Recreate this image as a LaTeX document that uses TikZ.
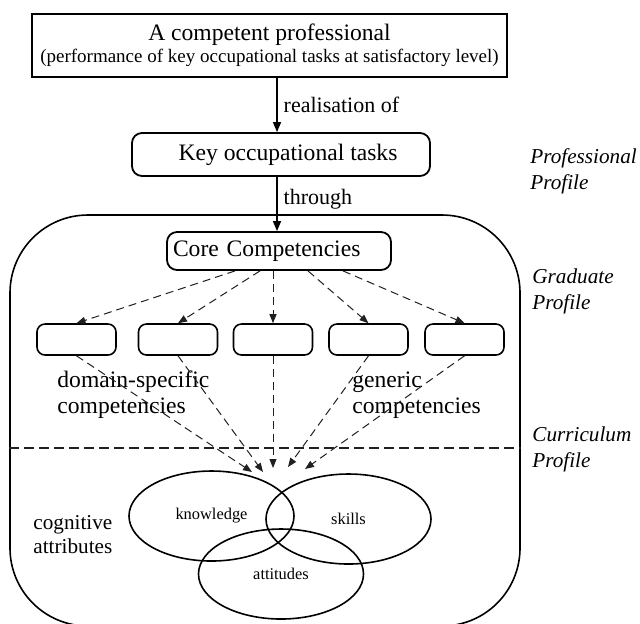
\documentclass[tikz,border=0pt]{standalone}
\usepackage{fontspec}
\setmainfont{Liberation Serif}
\usetikzlibrary{arrows.meta, positioning, shapes.geometric}
\definecolor{inkline}{HTML}{000000}
\definecolor{dashline}{HTML}{202020}
\tikzset{
    plainbox/.style={rectangle, draw=inkline, line width=0.9pt, inner sep=2pt, align=center, font=\fontsize{11.8}{12}\selectfont},
    roundbox/.style={rectangle, rounded corners=5pt, draw=inkline, line width=0.9pt, inner sep=3pt, font=\fontsize{11.8}{13}\selectfont},
    compbox/.style={rectangle, rounded corners=4pt, draw=inkline, line width=0.8pt, minimum width=39.5pt, minimum height=15.5pt, inner sep=0pt},
    outerbox/.style={rectangle, rounded corners=39pt, draw=inkline, line width=0.8pt, inner sep=0pt},
    venn/.style={ellipse, draw=inkline, line width=0.8pt, inner sep=0pt, minimum width=82.5pt, minimum height=45pt, font=\fontsize{8.2}{10}\selectfont},
    sidelabel/.style={anchor=west, align=left, inner sep=0pt, font=\fontsize{10.6}{13}\selectfont\itshape},
    grouplabel/.style={anchor=west, align=left, inner sep=0pt, font=\fontsize{11.8}{13}\selectfont},
    edgelabel/.style={right, inner sep=3pt, font=\fontsize{11}{13}\selectfont},
    flow/.style={-{Triangle[length=5pt, width=4pt]}, inkline, line width=0.7pt},
    dashflow/.style={-{Triangle[length=4.5pt, width=3.5pt]}, dashline, line width=0.5pt, dash pattern=on 4pt off 2.5pt},
    sepline/.style={dashline, line width=0.6pt, dash pattern=on 5pt off 2.5pt},
}
\begin{document}
\begin{tikzpicture}[x=0.5pt, y=-0.5pt]
\useasboundingbox (0,0) rectangle (640,623);
% graduate / curriculum frame
\node[outerbox, minimum width=255pt, minimum height=205.5pt] (frame) at (265,420.5) {};
\coordinate (sepy) at (0,448);
\draw[sepline] (frame.west |- sepy) -- (frame.east |- sepy);
% professional profile
\node[plainbox, minimum width=237.5pt, minimum height=31.5pt] (professional) at (269.5,45.5)
    {A competent professional\\[-1pt] {\fontsize{9.5}{12}\selectfont (performance of key occupational tasks at satisfactory level)}};
\node[roundbox, minimum width=149pt, minimum height=21.5pt] (keytasks) at (281,154.5) {\hspace*{7pt}Key occupational tasks};
\node[roundbox, minimum width=112pt, minimum height=19pt, text width=106pt, align=left] (core) at (279,251) {Core Competencies};
\draw[flow] ([xshift=3.75pt]professional.south) -- node[edgelabel] {realisation of} ([xshift=3.75pt]professional.south |- keytasks.north);
\draw[flow] ([xshift=3.75pt]professional.south |- keytasks.south) -- node[edgelabel, pos=0.42] {through} ([xshift=3.75pt]professional.south |- core.north);
% competencies
\foreach \x [count=\i] in {76.5,178,273,368.5,464.5}
    \node[compbox] (comp\i) at (\x,339.5) {};
\foreach \i/\dx in {1/-22pt,2/-9.5pt,3/-3pt,4/14.5pt,5/32pt}
    \draw[dashflow] ([xshift=\dx]core.south) -- (comp\i.north);
\node[grouplabel] (domainlabel) at (57,395) {domain-specific\\competencies};
\node[grouplabel] (genericlabel) at (352,395) {generic\\competencies};
% cognitive attributes
\node[venn] (knowledge) at (211.5,516) {knowledge};
\node[venn] (skills) at (348.5,519) {skills};
\node[venn] (attitudes) at (281,574) {attitudes};
\foreach \x/\y [count=\i] in {252/472,263/472,273/468,288/467,305/469}
    \coordinate (tip\i) at (\x,\y);
\foreach \i in {1,...,5}
    \draw[dashflow] (comp\i.south) -- (tip\i);
\node[grouplabel, font=\fontsize{10.6}{12}\selectfont] (cognitive) at (33,535) {cognitive\\attributes};
% profile labels
\node[sidelabel] (proflabel) at (530,171) {Professional\\Profile};
\node[sidelabel] (gradlabel) at (532,291) {Graduate\\Profile};
\node[sidelabel] (curlabel) at (532,449) {Curriculum\\Profile};
\end{tikzpicture}
\end{document}
